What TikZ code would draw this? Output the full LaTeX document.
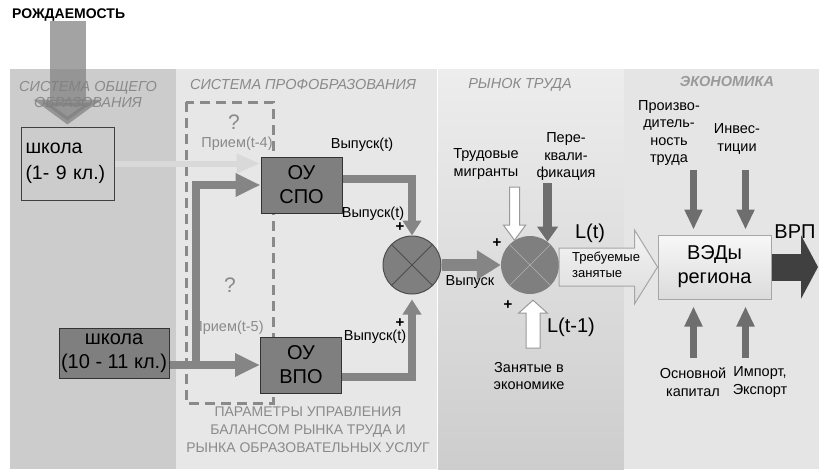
\documentclass[tikz,border=0pt]{standalone}
\usepackage{fontspec}
\setmainfont{Liberation Sans}
\usetikzlibrary{arrows.meta}
\usetikzlibrary{positioning}
\usetikzlibrary{calc}

\definecolor{panelA}{HTML}{CCCCCC}
\definecolor{panelB}{HTML}{E7E7E7}
\definecolor{panelCtop}{HTML}{EDEDED}
\definecolor{panelCbot}{HTML}{CDCDCD}
\definecolor{panelD}{HTML}{E5E5E5}
\definecolor{boxgray}{HTML}{7F7F7F}
\definecolor{flowgray}{HTML}{858585}
\definecolor{econgray}{HTML}{6E6E6E}
\definecolor{titlegray}{HTML}{8A8A8A}
\definecolor{palegray}{HTML}{D9D9D9}
\definecolor{vrpgray}{HTML}{404040}

\begin{document}
\begin{tikzpicture}[
    x=1pt, y=-1pt,
    % Text styles
    lbl/.style={font=\fontsize{14.5}{17.5}\selectfont, align=center, inner sep=0pt},
    big/.style={font=\fontsize{20}{24}\selectfont, align=center, inner sep=0pt},
    plus/.style={font=\fontsize{15}{15}\selectfont\bfseries, inner sep=0pt},
    paneltitle/.style={font=\fontsize{14.5}{16}\selectfont\itshape, text=titlegray, align=center, inner sep=0pt},
    qmark/.style={font=\fontsize{21}{24}\selectfont, text=titlegray, inner sep=0pt},
    % Block styles
    oubox/.style={draw=black!80, line width=1pt, fill=boxgray, font=\fontsize{20}{24}\selectfont, align=center, minimum width=81pt, minimum height=56pt, inner sep=0pt},
    sumnode/.style={circle, minimum size=58pt, inner sep=0pt, fill=boxgray},
    % Connector styles
    flow/.style={draw=flowgray, line width=8pt, -{Triangle[width=22pt,length=25pt]}},
    outflow/.style={draw=flowgray, line width=8pt, -{Triangle[width=18pt,length=15pt]}},
    econarrow/.style={draw=econgray, line width=7pt, -{Triangle[width=17pt,length=20pt]}},
    whitearrow/.style={draw=black!40, line width=1pt, fill=white},
    reqarrow/.style={draw=black!35, line width=1pt, top color=white!96!black, bottom color=white!86!black}
]

% Panels
\useasboundingbox (0,0) rectangle (819,469);
\fill[panelA] (10,69) rectangle (176,469);
\fill[panelB] (176,69) rectangle (437,469);
\shade[top color=panelCtop, bottom color=panelCbot] (438,69) rectangle (624,469);
\fill[panelD] (624,69) rectangle (819,469);
\draw[white, line width=1.5pt] (437.5,69) -- (437.5,469);

% Panel titles
\node[font=\fontsize{14}{16}\selectfont\bfseries, anchor=west, inner sep=0pt] (birth) at (12,15) {РОЖДАЕМОСТЬ};
\node[paneltitle] (ttlgen) at (88,95) {СИСТЕМА ОБЩЕГО\\ОБРАЗОВАНИЯ};
\node[paneltitle] (ttlprof) at (303,85) {СИСТЕМА ПРОФОБРАЗОВАНИЯ};
\node[paneltitle] (ttlmarket) at (520,85) {РЫНОК ТРУДА};
\node[paneltitle, font=\fontsize{14.5}{16}\selectfont\bfseries\itshape, text=black!40] (ttlecon) at (727,82) {ЭКОНОМИКА};

% Control parameters frame
\draw[titlegray, line width=3pt, dash pattern=on 10pt off 6pt] (186,102) rectangle (273,403);
\node[qmark] (q4) at (234,122) {?};
\node[lbl, text=titlegray] (adm4) at (237,144) {Прием(t-4)};
\node[qmark] (q5) at (230,285) {?};
\node[lbl, text=titlegray] (adm5) at (228,328) {Прием(t-5)};
\node[lbl, text=titlegray, font=\fontsize{14}{18}\selectfont] (params) at (308,430)
    {ПАРАМЕТРЫ УПРАВЛЕНИЯ\\БАЛАНСОМ РЫНКА ТРУДА И\\РЫНКА ОБРАЗОВАТЕЛЬНЫХ УСЛУГ};

% Schools and institutions
\node[draw=black!75, line width=1pt, minimum width=93pt, minimum height=73pt, text width=84pt,
      align=left, font=\fontsize{19.5}{26}\selectfont, inner sep=0pt] (school1) at (67.5,163.5) {школа\\(1- 9 кл.)};
\node[oubox, minimum width=110pt, minimum height=50pt] (school2) at (114,353) {школа\\(10 - 11 кл.)};
\node[oubox] (spo) at (301.5,185) {ОУ\\СПО};
\node[oubox] (vpo) at (301,365) {ОУ\\ВПО};

% Summators
\node[sumnode, draw=black!70, line width=1pt] (sum1) at (412,265) {};
\draw[black!70, line width=1pt] (sum1.45) -- (sum1.225) (sum1.135) -- (sum1.315);
\node[sumnode] (sum2) at (530,265) {};
\draw[black!30, line width=0.6pt] (sum2.45) -- (sum2.225) (sum2.135) -- (sum2.315);

% Economy block
\node[draw=black!35, line width=1pt, top color=white!97!black, bottom color=white!86!black,
      minimum width=113pt, minimum height=64pt, big] (ved) at (714.5,267) {ВЭДы\\региона};

% Labels
\node[lbl] (out1) at (362,145) {Выпуск(t)};
\node[lbl] (out2) at (373,214) {Выпуск(t)};
\node[lbl] (out3) at (375,337) {Выпуск(t)};
\node[plus] (p1) at (400,227) {+};
\node[plus] (p2) at (400,323) {+};
\node[plus] (p3) at (497,243) {+};
\node[plus] (p4) at (508,305) {+};
\node[lbl] (outsum) at (470,282) {Выпуск};
\node[lbl] (migr) at (486,164) {Трудовые\\мигранты};
\node[lbl] (requal) at (566,157) {Пере-\\квали-\\фикация};
\node[lbl] (empl) at (529,376) {Занятые в\\экономике};
\node[big] (lt) at (590,233) {L(t)};
\node[big] (ltprev) at (571,327) {L(t-1)};
\node[lbl] (prod) at (669,133) {Произво-\\дитель-\\ность\\труда};
\node[lbl] (inv) at (737,139) {Инвес-\\тиции};
\node[lbl] (capital) at (693,382) {Основной\\капитал};
\node[lbl] (impexp) at (760,382) {Импорт,\\Экспорт};
\node[big] (vrp) at (795,232) {ВРП};

% Flows into institutions
\draw[draw=palegray, line width=6pt, -{Triangle[width=18pt,length=24pt]}] (school1.east) -- (school1.east -| spo.west);
\draw[flow] (school2.east |- vpo.west) -- (vpo.west);
\coordinate (fork) at ($(school2.east |- vpo.west)+(26,0)$);
\draw[flow] (fork) |- (spo.west);

% Graduates
\draw[outflow] ([yshift=6pt]spo.east) -| (sum1.north);
\draw[outflow, shorten >=5pt] ([yshift=-12pt]vpo.east) -| (sum1.south);
\draw[draw=flowgray, line width=12pt, -{Triangle[width=28pt,length=24pt]}] (sum1.east) -- (sum2.west);

% Labour market inputs
\draw[draw=econgray, line width=9pt, -{Triangle[width=20pt,length=15pt]}] ([yshift=-2pt]sum2.53 |- requal.south) -- (sum2.53);
\draw[whitearrow] (sum2.122) -- ++(-11,-15) -- ++(6,0) -- ++(0,-38) -- ++(10,0) -- ++(0,38) -- ++(6,0) -- cycle;
\coordinate (lprevtip) at ($(sum2.south)+(3,6)$);
\draw[whitearrow] (lprevtip) -- ++(-14.5,13) -- ++(7.5,0) -- ++(0,35) -- ++(14,0) -- ++(0,-35) -- ++(7.5,0) -- cycle;

% Required employment
\coordinate (reqtip) at (ved.west);
\draw[reqarrow] (reqtip) -- ++(-23,-37) -- ++(0,18) -- ($(sum2.east |- reqtip)+(0,-19)$)
    -- ++(0,38) -- ($(reqtip)+(-23,19)$) -- ++(0,18) -- cycle;
\node[anchor=west, align=left, inner sep=0pt, font=\fontsize{13}{16}\selectfont] (reqtxt) at (572,265) {Требуемые\\занятые};

% Economy inputs and output
\coordinate (prodin) at ($(ved.north west)+(36,0)$);
\coordinate (invin) at ($(ved.north west)+(88,0)$);
\coordinate (capin) at ($(ved.south west)+(36,0)$);
\coordinate (impin) at ($(ved.south west)+(88,0)$);
\draw[econarrow, shorten >=5pt] ($(prodin)+(0,-65)$) -- (prodin);
\draw[econarrow, shorten >=5pt] ($(invin)+(0,-65)$) -- (invin);
\draw[econarrow, shorten >=7pt] ($(capin)+(0,58)$) -- (capin);
\draw[econarrow, shorten >=7pt] ($(impin)+(0,58)$) -- (impin);
\coordinate (vrpend) at (818,267);
\draw[draw=vrpgray, line width=27pt, -{Triangle[width=63pt,length=17pt]}] (ved.east) -- (vrpend);

% Birth rate
\draw[draw=black!50, opacity=0.72, line width=36pt, -{Triangle[width=67pt,length=25pt]}, shorten >=2pt]
    (birth.south -| school1.north) -- (school1.north);

\end{tikzpicture}
\end{document}
